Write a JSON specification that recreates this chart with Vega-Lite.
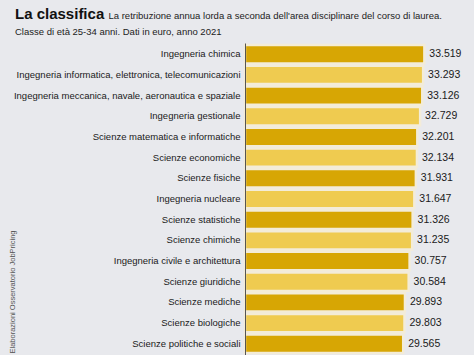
{
  "$schema": "https://vega.github.io/schema/vega-lite/v6.json",
  "autosize": {"type": "none"},
  "width": 214,
  "height": 312,
  "padding": {"left": 245, "top": 43, "right": 15, "bottom": 0},
  "background": "#e8e9ed",
  "title": {
    "text": "La classifica",
    "subtitle": "Classe di età 25-34 anni. Dati in euro, anno 2021",
    "anchor": "start",
    "frame": "group",
    "dx": -230,
    "font": "Liberation Sans",
    "fontSize": 15,
    "fontWeight": "bold",
    "color": "#111111",
    "subtitleFont": "Liberation Sans",
    "subtitleFontSize": 9.5,
    "subtitleColor": "#222222",
    "subtitlePadding": 5,
    "offset": -26
  },
  "config": {
    "view": {"stroke": null},
    "locale": {"number": {"decimal": ",", "thousands": ".", "grouping": [3], "currency": ["€", ""]}}
  },
  "data": {
    "values": [
      {"area": "Ingegneria chimica", "valore": 33519},
      {"area": "Ingegneria informatica, elettronica, telecomunicazioni", "valore": 33293},
      {"area": "Ingegneria meccanica, navale, aeronautica e spaziale", "valore": 33126},
      {"area": "Ingegneria gestionale", "valore": 32729},
      {"area": "Scienze matematica e informatiche", "valore": 32201},
      {"area": "Scienze economiche", "valore": 32134},
      {"area": "Scienze fisiche", "valore": 31931},
      {"area": "Ingegneria nucleare", "valore": 31647},
      {"area": "Scienze statistiche", "valore": 31326},
      {"area": "Scienze chimiche", "valore": 31235},
      {"area": "Ingegneria civile e architettura", "valore": 30757},
      {"area": "Scienze giuridiche", "valore": 30584},
      {"area": "Scienze mediche", "valore": 29893},
      {"area": "Scienze biologiche", "valore": 29803},
      {"area": "Scienze politiche e sociali", "valore": 29565}
    ]
  },
  "transform": [
    {"window": [{"op": "row_number", "as": "pos"}], "sort": [{"field": "valore", "order": "descending"}]}
  ],
  "encoding": {
    "y": {
      "field": "area",
      "type": "nominal",
      "sort": {"field": "valore", "order": "descending"},
      "scale": {"paddingInner": 0.115, "paddingOuter": 0.1},
      "axis": {
        "title": "Elaborazioni Osservatorio JobPricing",
        "titleFont": "Liberation Sans",
        "titleFontSize": 7.5,
        "titleFontWeight": "normal",
        "titleColor": "#555555",
        "titleAnchor": "end",
        "titleAlign": "left",
        "titleY": 310,
        "titleX": -229,
        "ticks": false,
        "zindex": 1,
        "domainColor": "#555555",
        "domainWidth": 1,
        "labelFont": "Liberation Sans",
        "labelFontSize": 9.5,
        "labelColor": "#1a1a1a",
        "labelPadding": 5,
        "labelLimit": 300
      }
    },
    "x": {
      "field": "valore",
      "type": "quantitative",
      "scale": {"domain": [0, 40000]},
      "axis": {
        "orient": "top",
        "labels": false,
        "ticks": false,
        "domain": false,
        "grid": false,
        "title": "La retribuzione annua lorda a seconda dell'area disciplinare del corso di laurea.",
        "titleFont": "Liberation Sans",
        "titleFontSize": 9.5,
        "titleFontWeight": "normal",
        "titleColor": "#222222",
        "titleAnchor": "start",
        "titleAlign": "left",
        "titleBaseline": "alphabetic",
        "titleAngle": 0,
        "titleX": -137,
        "titleY": -25
      }
    }
  },
  "layer": [
    {
      "mark": {"type": "bar", "stroke": "#f3ecd8", "strokeWidth": 2.4},
      "encoding": {
        "color": {
          "condition": {"test": "datum.pos % 2 === 1", "value": "#d7a604"},
          "value": "#efcb50"
        }
      }
    },
    {
      "mark": {"type": "text", "align": "left", "dx": 5, "font": "Liberation Sans", "fontSize": 10.5, "color": "#1a1a1a"},
      "encoding": {
        "text": {"field": "valore", "type": "quantitative", "format": ","}
      }
    }
  ]
}
